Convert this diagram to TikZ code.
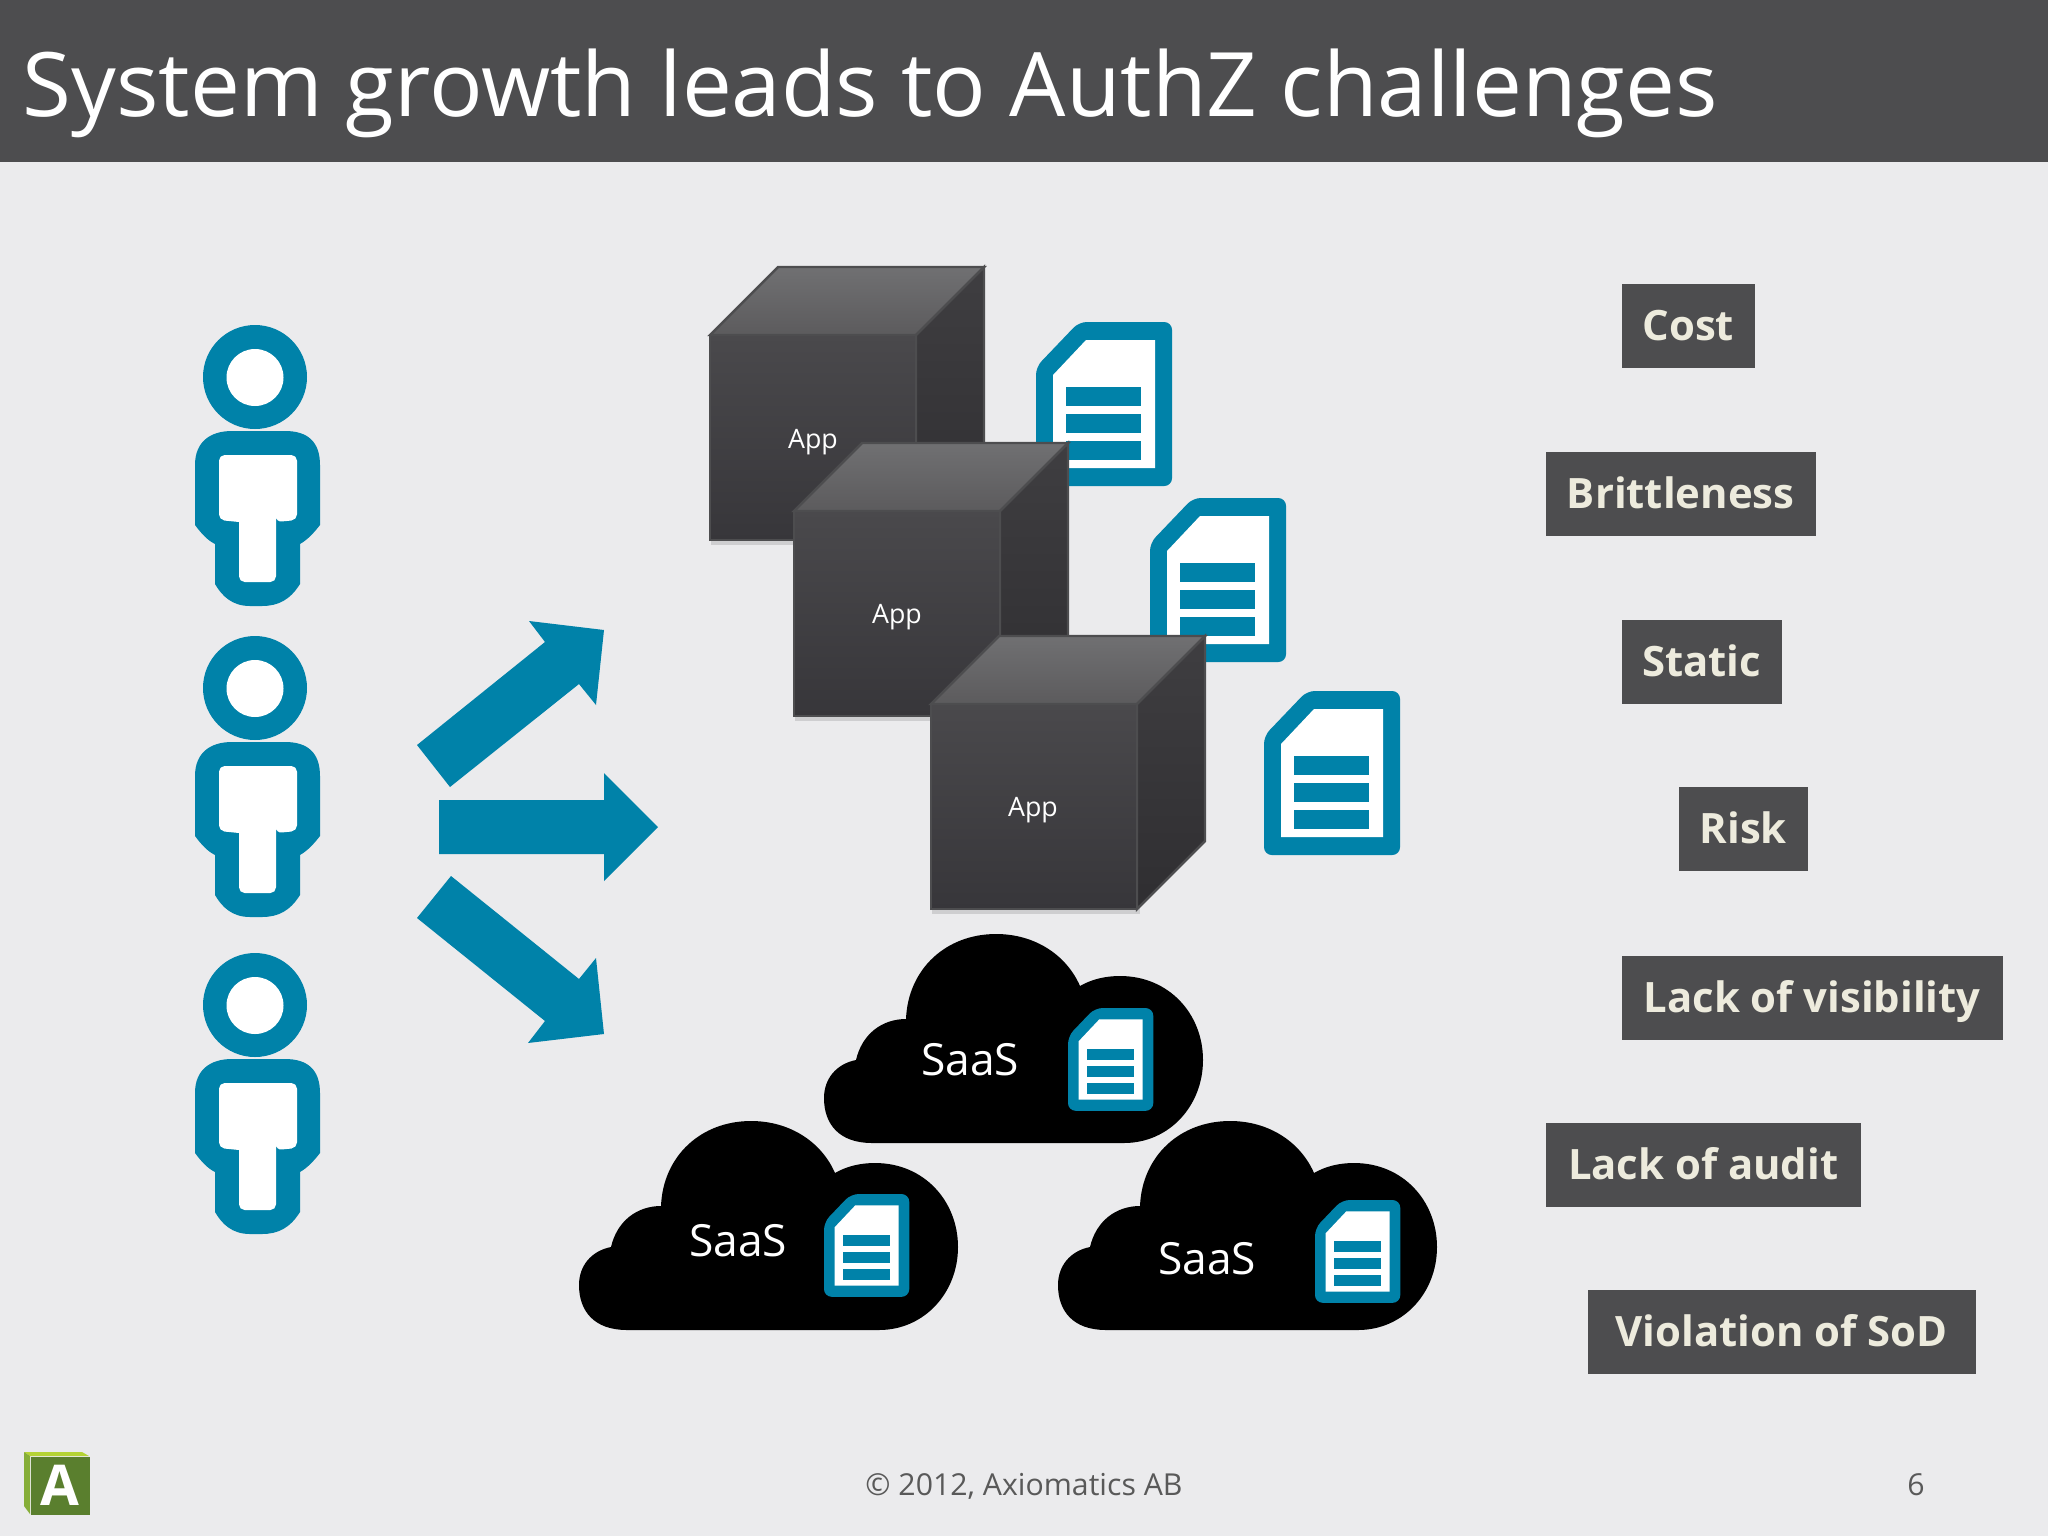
\documentclass[tikz,border=0pt]{standalone}
\usepackage{fontspec}
\setmainfont{Open Sans}
\definecolor{pagebg}{HTML}{EBEBED}
\definecolor{barcol}{HTML}{4D4D4F}
\definecolor{teal}{HTML}{0082A9}
\definecolor{tagtext}{HTML}{EDEBDD}
\definecolor{footcol}{HTML}{595959}
\definecolor{cubetopa}{HTML}{707072}
\definecolor{cubetopb}{HTML}{5C5B5D}
\definecolor{cubesidea}{HTML}{3F3E41}
\definecolor{cubesideb}{HTML}{2F2E31}
\definecolor{cubefronta}{HTML}{4A494C}
\definecolor{cubefrontb}{HTML}{37363A}
\definecolor{logofront}{HTML}{5A7F2E}
\definecolor{logotop}{HTML}{B5D335}
\definecolor{logoside}{HTML}{86AE38}
\tikzset{
  tagbox/.style={fill=barcol, text=tagtext, font=\fontsize{11.9}{16}\selectfont\bfseries, anchor=north west, inner sep=0pt, minimum height=0.84cm, text height=1.08em, text depth=0.22em},
  applabel/.style={text=white, font=\fontsize{7.6}{10}\selectfont, inner sep=0pt},
  saaslabel/.style={text=white, font=\fontsize{12.6}{16}\selectfont, inner sep=0pt},
  footlabel/.style={text=footcol, font=\fontsize{8.6}{11}\selectfont, inner sep=0pt},
  person/.pic={
    \fill[teal] (255,377) circle (52);
    \fill[white] (255,377.5) ellipse (28.5 and 28.5);
    \fill[teal] (195,465) .. controls (195,442) and (210,431) .. (232,431) -- (285,431)
      .. controls (308,431) and (320,442) .. (320,465) -- (320,525) .. controls (313,534) and (307,540) .. (300,544)
      -- (300,584) .. controls (290,600) and (278,606) .. (262,606) -- (250,606) .. controls (232,606) and (222,596) .. (215,584)
      -- (215,544) .. controls (207,540) and (201,533) .. (195,525) -- cycle;
    \fill[white, rounded corners=1.6pt] (219,455) -- (297,455) -- (297,520) -- (276,522) -- (276,522) [sharp corners] -- (276,522)
      [rounded corners=1.6pt] -- (276,582) -- (239,582) [sharp corners] -- (239,522) [rounded corners=1.6pt] -- (219,520) -- cycle;
  },
  doc/.pic={
    \fill[teal, rounded corners=2.2pt] (43,0) -- (136,0) -- (136,164) -- (0,164) -- (0,45) -- cycle;
    \fill[white] (50,18) -- (119,18) -- (119,146) -- (17,146) -- (17,53) -- cycle;
    \foreach \y in {65,92,119}
      \fill[teal] (30,\y) rectangle (105,\y+18.5);
  },
  cube/.pic={
    \fill[black, opacity=0.12] (1,6) rectangle (209,210);
    \draw[draw=barcol, line width=0.7pt, top color=cubetopa, bottom color=cubetopb] (0,0) -- (68,-68) -- (274,-68) -- (206,0) -- cycle;
    \draw[draw=barcol, line width=0.7pt, top color=cubesidea, bottom color=cubesideb] (206,0) -- (274,-68) -- (274,137) -- (206,205) -- cycle;
    \draw[draw=barcol, line width=0.7pt, top color=cubefronta, bottom color=cubefrontb] (0,0) rectangle (206,205);
  },
  cloud/.pic={
    \fill[black] (48,209) .. controls (15,209) and (0,190) .. (0,164) .. controls (0,145) and (12,130) .. (32,126)
      .. controls (38,100) and (58,85) .. (82,85) .. controls (84,35) and (122,0) .. (172,0) .. controls (212,0) and (243,22) .. (256,52)
      .. controls (268,45) and (282,42) .. (296,42) .. controls (345,42) and (379,80) .. (379,126) .. controls (379,172) and (345,209) .. (300,209) -- cycle;
  },
}
\begin{document}
\begin{tikzpicture}[x=0.01cm, y=-0.01cm]
\useasboundingbox (0,0) rectangle (2048,1536);
\fill[pagebg] (0,0) rectangle (2048,1536);
\fill[barcol] (0,0) rectangle (2048,162);
\node[anchor=base west, inner sep=0pt, text=white, font=\fontsize{25.3}{30}\selectfont] (slidetitle) at (22,116) {System growth leads to AuthZ challenges};

\foreach \y in {0,311,628}
    \pic at (0,\y) {person};

\fill[teal] (417,745) -- (450,787) -- (579,684) -- (596,705) -- (604,630) -- (529,621) -- (545,642) -- cycle;
\fill[teal] (439,800) -- (604,800) -- (604,773) -- (658,827) -- (604,881) -- (604,854) -- (439,854) -- cycle;
\fill[teal] (451,876) -- (417,918) -- (545,1021) -- (528,1043) -- (604,1034) -- (596,958) -- (579,979) -- cycle;

\foreach \x/\y in {1036/322,1150/498,1264/691}
    \pic at (\x,\y) {doc};

\foreach \i/\x/\y/\tx/\ty in {1/710/335/813/442,2/794/511/897/617,3/931/704/1033/810}{
    \pic at (\x,\y) {cube};
    \node[applabel] (app\i) at (\tx,\ty) {App};
}

\foreach \i/\x/\y/\tx/\ty/\dx/\dy in {1/824/934/970/1060/1068/1008,2/579/1121/738/1241/824/1194,3/1058/1121/1207/1259/1315/1200}{
    \pic at (\x,\y) {cloud};
    \node[saaslabel] (saas\i) at (\tx,\ty) {SaaS};
    \pic[scale=0.627] at (\dx,\dy) {doc};
}

\foreach \nm/\x/\y/\w/\txt in {cost/1621/283/133/Cost,brittle/1545/451/270/Brittleness,static/1621/619/160/Static,risk/1678/786/129/Risk,visibility/1621/955/381/Lack of visibility,audit/1545/1122/315/Lack of audit,sod/1587/1289/388/Violation of SoD}
    \node[tagbox, minimum width=\w*0.01cm] (\nm) at (\x,\y) {\txt};

\fill[logotop] (24,1452) -- (82,1452) -- (89,1456) -- (30,1456) -- cycle;
\fill[logoside] (24,1452) -- (30,1456) -- (30,1514) -- (24,1506) -- cycle;
\node[fill=logofront, text=white, font=\fontsize{16}{20}\selectfont\bfseries, minimum width=0.59cm, minimum height=0.58cm, inner sep=0pt, anchor=north west] (logo) at (30,1456) {A};

\node[footlabel] (copyright) at (1024,1486) {© 2012, Axiomatics AB};
\node[footlabel] (pagenum) at (1916,1485) {6};
\end{tikzpicture}
\end{document}
